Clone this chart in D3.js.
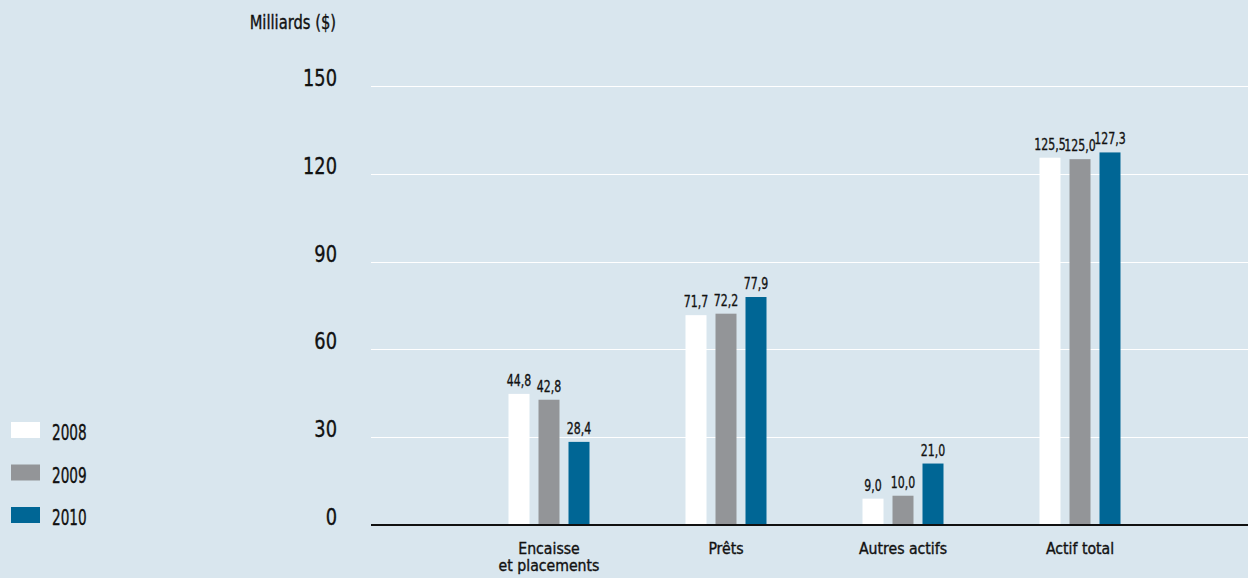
<!DOCTYPE html>
<html><head><meta charset="utf-8">
<script src="https://cdn.jsdelivr.net/npm/d3@7"></script>
<style>
html,body{margin:0;padding:0;background:#d9e6ee;}
svg{display:block;}
text{font-family:"DejaVu Sans Condensed","Liberation Sans Narrow","DejaVu Sans",sans-serif;fill:#111;stroke:#111;stroke-width:0.35px;}
</style></head><body>
<svg id="c" width="1248" height="578"></svg>
<script>
const categories = [["Encaisse","et placements"],["Prêts"],["Autres actifs"],["Actif total"]];
const years = ["2008","2009","2010"];
const v2008 = [44.8, 71.7, 9.0, 125.5];
const v2009 = [42.8, 72.2, 10.0, 125.0];
const v2010 = [28.4, 77.9, 21.0, 127.3];
const yTicks = [0, 30, 60, 90, 120, 150];
const colors = ["#ffffff", "#939598", "#006695"];
const series = [v2008, v2009, v2010];

const svg = d3.select("#c");
const W = 1248, H = 578;
svg.append("rect").attr("width", W).attr("height", H).attr("fill", "#d9e6ee");

const plotL = 371, plotR = 1248;
const y = d3.scaleLinear().domain([0, 150]).range([525, 86]);
const catKeys = categories.map((d, i) => i);
const x = d3.scaleBand().domain(catKeys).range([460.5, 1168.5]).padding(0);
const xi = d3.scaleBand().domain(years).range([-40.5, 40.5]).paddingInner(0.3).paddingOuter(0);

function ctext(parent, tx, ty, sx, size, anchor, str) {
  return parent.append("text")
    .attr("transform", `translate(${tx},${ty}) scale(${sx},1)`)
    .attr("text-anchor", anchor).attr("font-size", size).text(str);
}

// gridlines
svg.append("g").selectAll("line").data(yTicks.filter(t => t > 0)).join("line")
  .attr("x1", plotL).attr("x2", plotR)
  .attr("y1", d => Math.round(y(d)) + 0.5).attr("y2", d => Math.round(y(d)) + 0.5)
  .attr("stroke", "#ffffff").attr("stroke-width", 1.2);

// y tick labels
const yAxis = d3.axisLeft(y).tickValues(yTicks).tickSize(0).tickPadding(0).tickFormat(d3.format("d"));
const ga = svg.append("g").attr("transform", `translate(337,0)`).call(yAxis);
ga.select(".domain").remove();
ga.selectAll("text")
  .attr("x", 0).attr("dy", null).attr("y", -0.5)
  .attr("transform", "scale(0.86,1)")
  .attr("font-size", 23).attr("fill", "#111").attr("stroke", "#111").attr("stroke-width", 0.35)
  .style("font-family", '"DejaVu Sans Condensed","DejaVu Sans",sans-serif');

ctext(svg, 336, 29, 0.88, 18.6, "end", "Milliards ($)");

// bars
const fmt = v => d3.format(".1f")(v).replace(".", ",");
series.forEach((vals, si) => {
  const g = svg.append("g");
  g.selectAll("rect").data(vals).join("rect")
    .attr("x", (d, i) => x(i) + x.bandwidth() / 2 + xi(years[si]))
    .attr("width", xi.bandwidth())
    .attr("y", d => y(d))
    .attr("height", d => y(0) - y(d))
    .attr("fill", colors[si]);
  vals.forEach((d, i) => {
    ctext(g, x(i) + x.bandwidth() / 2 + xi(years[si]) + xi.bandwidth() / 2, y(d) - 8, 0.74, 16.5, "middle", fmt(d));
  });
});

// baseline
svg.append("line").attr("x1", plotL).attr("x2", plotR).attr("y1", 525).attr("y2", 525)
  .attr("stroke", "#111").attr("stroke-width", 2);

// category labels
const cg = svg.append("g");
categories.forEach((lines, i) => {
  lines.forEach((l, j) => ctext(cg, x(i) + x.bandwidth() / 2, 554 + j * 17, 0.98, 16, "middle", l));
});

// legend
const lg = svg.append("g");
years.forEach((yr, i) => {
  lg.append("rect").attr("x", 11).attr("y", 422 + i * 42.5).attr("width", 29).attr("height", 16).attr("fill", colors[i]);
  ctext(lg, 52, 440 + i * 42.5, 0.74, 20.5, "start", yr);
});
</script>
</body></html>
